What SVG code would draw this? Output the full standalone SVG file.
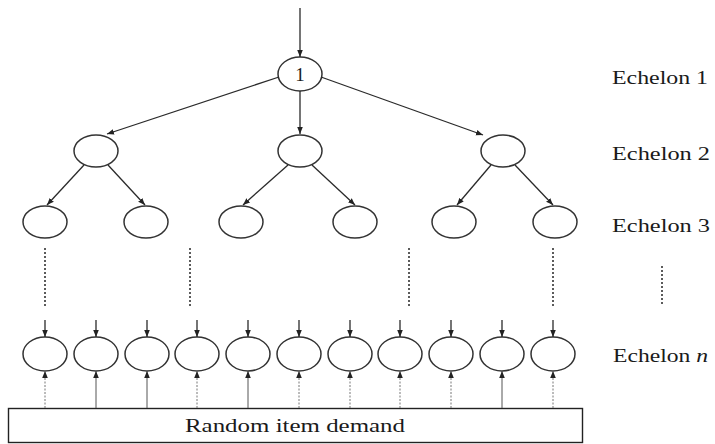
<svg xmlns="http://www.w3.org/2000/svg" width="715" height="444" viewBox="0 0 715 444">
  <defs>
    <marker id="arr" viewBox="0 0 10 10" refX="10" refY="5" markerWidth="7" markerHeight="7" markerUnits="userSpaceOnUse" orient="auto">
      <path d="M0,1 L10,5 L0,9 z" fill="#222"/>
    </marker>
    <style>
      .node ellipse { fill: #fff; stroke: #333; stroke-width: 1.5; }
      .edge { stroke: #2a2a2a; stroke-width: 1.3; fill: none; marker-end: url(#arr); }
      .feed { stroke: #555; stroke-width: 1; fill: none; marker-end: url(#arr); }
      .feed.dot { stroke-dasharray: 2 1.5; stroke: #777; }
      .gap { stroke: #333; stroke-width: 1.6; stroke-dasharray: 2 2; fill: none; }
      .lbl { font-family: "Liberation Serif", "Times New Roman", serif; font-size: 19px; fill: #1a1a1a; }
    </style>
  </defs>
  <rect width="715" height="444" fill="#fff"/>

  <!-- nodes: echelon 1 -->
  <g id="n1" class="node"><ellipse cx="300" cy="74" rx="22" ry="17"/><text class="lbl" x="300" y="81" text-anchor="middle">1</text></g>

  <!-- echelon 2 -->
  <g id="n2a" class="node"><ellipse cx="96" cy="151" rx="22" ry="16"/></g>
  <g id="n2b" class="node"><ellipse cx="300" cy="151" rx="22" ry="16"/></g>
  <g id="n2c" class="node"><ellipse cx="503" cy="151" rx="22" ry="16"/></g>

  <!-- echelon 3 -->
  <g id="n3a" class="node"><ellipse cx="45" cy="222" rx="22" ry="16"/></g>
  <g id="n3b" class="node"><ellipse cx="146" cy="222" rx="22" ry="16"/></g>
  <g id="n3c" class="node"><ellipse cx="241" cy="222" rx="22" ry="16"/></g>
  <g id="n3d" class="node"><ellipse cx="355" cy="222" rx="22" ry="16"/></g>
  <g id="n3e" class="node"><ellipse cx="454" cy="222" rx="22" ry="16"/></g>
  <g id="n3f" class="node"><ellipse cx="555" cy="222" rx="22" ry="16"/></g>

  <!-- echelon n -->
  <g id="nn1" class="node"><ellipse cx="45" cy="354" rx="22" ry="17"/></g>
  <g id="nn2" class="node"><ellipse cx="96" cy="354" rx="22" ry="17"/></g>
  <g id="nn3" class="node"><ellipse cx="147" cy="354" rx="22" ry="17"/></g>
  <g id="nn4" class="node"><ellipse cx="197" cy="354" rx="22" ry="17"/></g>
  <g id="nn5" class="node"><ellipse cx="248" cy="354" rx="22" ry="17"/></g>
  <g id="nn6" class="node"><ellipse cx="299" cy="354" rx="22" ry="17"/></g>
  <g id="nn7" class="node"><ellipse cx="350" cy="354" rx="22" ry="17"/></g>
  <g id="nn8" class="node"><ellipse cx="400" cy="354" rx="22" ry="17"/></g>
  <g id="nn9" class="node"><ellipse cx="451" cy="354" rx="22" ry="17"/></g>
  <g id="nn10" class="node"><ellipse cx="502" cy="354" rx="22" ry="17"/></g>
  <g id="nn11" class="node"><ellipse cx="553" cy="354" rx="22" ry="17"/></g>

  <!-- demand source -->
  <g id="demand">
    <rect x="8.5" y="408.5" width="574" height="34" fill="#fff" stroke="#222" stroke-width="1.4"/>
    <text class="lbl" x="185" y="432" textLength="220" lengthAdjust="spacingAndGlyphs">Random item demand</text>
  </g>

  <!-- connectors -->
  <g id="connectors">
    <line class="edge" x1="300" y1="8" x2="300" y2="57"/>
    <line class="edge" x1="279" y1="77" x2="107" y2="134"/>
    <line class="edge" x1="300" y1="91" x2="300" y2="134"/>
    <line class="edge" x1="321" y1="77" x2="483" y2="135"/>

    <line class="edge" x1="84" y1="165" x2="47" y2="205"/>
    <line class="edge" x1="108" y1="165" x2="145" y2="205"/>
    <line class="edge" x1="288" y1="165" x2="243" y2="205"/>
    <line class="edge" x1="312" y1="165" x2="355" y2="205"/>
    <line class="edge" x1="491" y1="165" x2="457" y2="205"/>
    <line class="edge" x1="515" y1="165" x2="553" y2="205"/>

    <!-- omitted intermediate echelons -->
    <line class="gap" x1="45" y1="248" x2="45" y2="308"/>
    <line class="gap" x1="190" y1="248" x2="190" y2="308"/>
    <line class="gap" x1="409" y1="248" x2="409" y2="308"/>
    <line class="gap" x1="553" y1="248" x2="553" y2="308"/>
    <line class="gap" x1="662" y1="266" x2="662" y2="306"/>

    <!-- inflow to echelon n -->
    <line class="edge" x1="45" y1="320" x2="45" y2="337"/>
    <line class="edge" x1="96" y1="320" x2="96" y2="337"/>
    <line class="edge" x1="147" y1="320" x2="147" y2="337"/>
    <line class="edge" x1="197" y1="320" x2="197" y2="337"/>
    <line class="edge" x1="248" y1="320" x2="248" y2="337"/>
    <line class="edge" x1="299" y1="320" x2="299" y2="337"/>
    <line class="edge" x1="350" y1="320" x2="350" y2="337"/>
    <line class="edge" x1="400" y1="320" x2="400" y2="337"/>
    <line class="edge" x1="451" y1="320" x2="451" y2="337"/>
    <line class="edge" x1="502" y1="320" x2="502" y2="337"/>
    <line class="edge" x1="553" y1="320" x2="553" y2="337"/>

    <!-- demand to echelon n -->
    <line class="feed dot" x1="45" y1="408" x2="45" y2="371"/>
    <line class="feed" x1="96" y1="408" x2="96" y2="371"/>
    <line class="feed" x1="147" y1="408" x2="147" y2="371"/>
    <line class="feed dot" x1="197" y1="408" x2="197" y2="371"/>
    <line class="feed" x1="248" y1="408" x2="248" y2="371"/>
    <line class="feed dot" x1="299" y1="408" x2="299" y2="371"/>
    <line class="feed dot" x1="350" y1="408" x2="350" y2="371"/>
    <line class="feed dot" x1="400" y1="408" x2="400" y2="371"/>
    <line class="feed dot" x1="451" y1="408" x2="451" y2="371"/>
    <line class="feed" x1="502" y1="408" x2="502" y2="371"/>
    <line class="feed dot" x1="553" y1="408" x2="553" y2="371"/>
  </g>

  <!-- echelon labels -->
  <g id="labels">
    <text class="lbl" x="612" y="84" textLength="96" lengthAdjust="spacingAndGlyphs">Echelon 1</text>
    <text class="lbl" x="612" y="160" textLength="98" lengthAdjust="spacingAndGlyphs">Echelon 2</text>
    <text class="lbl" x="612" y="232" textLength="98" lengthAdjust="spacingAndGlyphs">Echelon 3</text>
    <text class="lbl" x="613" y="362" textLength="95" lengthAdjust="spacingAndGlyphs">Echelon <tspan font-style="italic">n</tspan></text>
  </g>
</svg>
